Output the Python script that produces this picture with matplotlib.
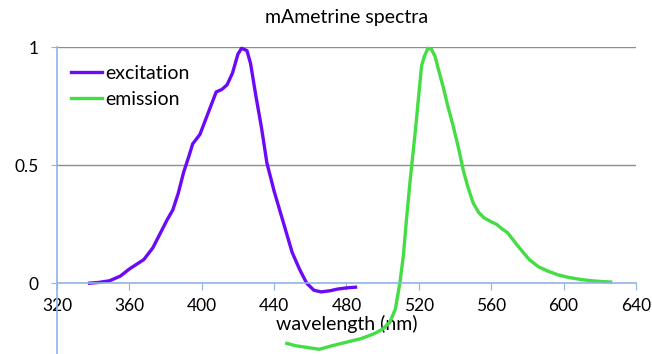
import numpy as np
import matplotlib.pyplot as plt

plt.rcParams['font.family'] = ['Lato', 'DejaVu Sans']

# excitation spectrum (nm, normalised)
ex_wl = [338, 343, 349, 355, 360, 364, 368, 373, 377, 381, 384, 387, 390, 393, 395, 399,
         402, 405, 408, 411, 414, 417, 420, 422, 425, 427, 430, 433, 436, 440, 445, 450,
         454, 458, 462, 466, 471, 475, 480, 485]
ex_val = [0.0, 0.003, 0.01, 0.03, 0.06, 0.08, 0.10, 0.15, 0.21, 0.27, 0.31, 0.38, 0.47, 0.54,
          0.59, 0.63, 0.69, 0.75, 0.81, 0.82, 0.84, 0.89, 0.97, 0.995, 0.985, 0.93, 0.79, 0.66,
          0.51, 0.39, 0.26, 0.13, 0.06, 0.0, -0.03, -0.037, -0.032, -0.025, -0.02, -0.017]

# emission spectrum (nm, normalised)
em_wl = [447, 452, 458, 465, 472, 480, 488, 495, 500, 504, 507, 509.5, 511.5, 513, 515, 516,
         518, 519.5, 521.5, 523, 525, 527, 529, 531, 533.5, 536, 539, 542, 544.5, 547, 550,
         553, 556, 560, 563, 566, 569, 575, 581, 586, 591, 597, 603, 610, 616, 621, 626]
em_val = [-0.255, -0.265, -0.272, -0.28, -0.265, -0.25, -0.235, -0.215, -0.195, -0.165,
          -0.11, 0.0, 0.12, 0.256, 0.42, 0.495, 0.64, 0.76, 0.92, 0.96, 0.995, 0.99, 0.96,
          0.9, 0.83, 0.75, 0.665, 0.57, 0.48, 0.41, 0.34, 0.3, 0.277, 0.26, 0.249, 0.23,
          0.214, 0.155, 0.10, 0.07, 0.052, 0.035, 0.024, 0.015, 0.01, 0.007, 0.005]

xticks = [320, 360, 400, 440, 480, 520, 560, 600, 640]
yticks = [0, 0.5, 1]

fig = plt.figure(figsize=(6.52, 3.54), dpi=100)
ax = fig.add_axes([0.0874, 0.0, 0.888, 0.867])

ax.plot(ex_wl, ex_val, color='#6b0af5', lw=2.4, label='excitation', clip_on=False)
ax.plot(em_wl, em_val, color='#44dd44', lw=2.4, label='emission', clip_on=False)

ax.set_xlim(320, 640)
ax.set_ylim(-0.3, 1.0)
ax.set_xticks(xticks)
ax.set_xticklabels([str(t) for t in xticks])
ax.set_yticks(yticks)
ax.set_yticklabels(['0', '0.5', '1'])

for y in [0.5, 1]:
    ax.axhline(y, color='#8c8c8c', lw=1, zorder=0)

axis_col = '#8eb4e3'
ax.spines['top'].set_visible(False)
ax.spines['right'].set_visible(False)
ax.spines['bottom'].set_position(('data', 0))
ax.spines['bottom'].set_color(axis_col)
ax.spines['left'].set_color(axis_col)
ax.spines['bottom'].set_linewidth(1.2)
ax.spines['left'].set_linewidth(1.2)
ax.tick_params(axis='x', direction='out', length=5, color=axis_col, labelsize=12.5, pad=6)
ax.tick_params(axis='y', direction='out', length=4, color=axis_col, labelsize=12.5, pad=9)

ax.set_xlabel('wavelength (nm)', fontsize=14, labelpad=0)
ax.set_title('mAmetrine spectra', fontsize=14, pad=17)

ax.legend(loc='upper left', frameon=False, fontsize=14, handlelength=1.6,
          handletextpad=0.2, labelspacing=0.45, borderaxespad=0.3,
          bbox_to_anchor=(0.0, 0.985))

fig.savefig('out.png', dpi=100)
